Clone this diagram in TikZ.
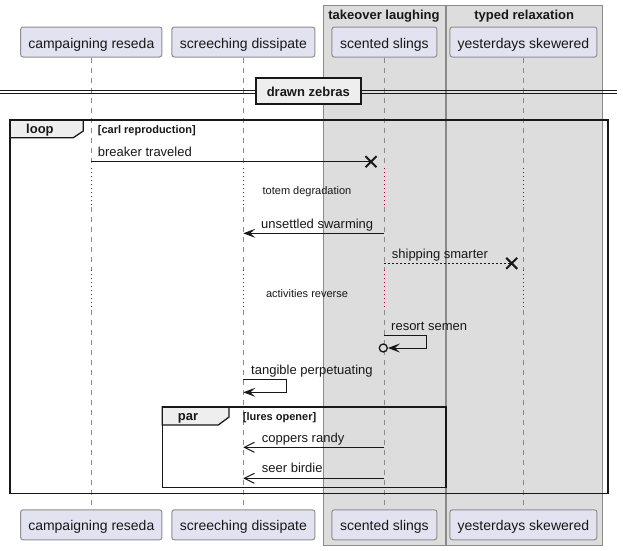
\documentclass[tikz,border=0pt]{standalone}
\usepackage{fontspec}
\setmainfont{Liberation Sans}
\usetikzlibrary{arrows.meta,shapes.misc}
\definecolor{partfill}{HTML}{E2E2F0}
\definecolor{partdraw}{HTML}{8F8F8F}
\definecolor{grpfill}{HTML}{DDDDDD}
\definecolor{grpdraw}{HTML}{8A8A8A}
\definecolor{lifec}{HTML}{8A8A8A}
\definecolor{delayc}{HTML}{A80036}
\definecolor{tabfill}{HTML}{EEEEEE}
\definecolor{ink}{HTML}{181818}
\begin{document}
\begin{tikzpicture}[x=1pt,y=-1pt,
  part/.style={draw=partdraw, fill=partfill, line width=1pt, rounded corners=2.5pt, minimum height=30pt, inner sep=0pt, text height=12pt, text depth=0pt, font=\fontsize{14}{16}\selectfont, text=ink},
  grp/.style={draw=grpdraw, fill=grpfill, line width=1pt, inner sep=0pt, anchor=north west},
  grptitle/.style={font=\bfseries\fontsize{13}{15}\selectfont, anchor=base, inner sep=0pt, text=ink},
  life/.style={draw=lifec, line width=1pt, dash pattern=on 5pt off 5pt},
  delay/.style={draw=delayc, line width=1pt, dash pattern=on 1pt off 3pt},
  msgtxt/.style={font=\fontsize{13}{15}\selectfont, anchor=base west, inner sep=0pt, text=ink},
  delaytxt/.style={font=\fontsize{11}{13}\selectfont, anchor=base, inner sep=0pt, text=ink},
  hdr/.style={font=\bfseries\fontsize{13}{15}\selectfont, anchor=base west, inner sep=0pt, text=ink},
  cond/.style={font=\bfseries\fontsize{11}{13}\selectfont, anchor=base west, inner sep=0pt, text=ink},
  frameline/.style={draw=ink, line width=1.6pt},
  tabshape/.style={draw=ink, fill=tabfill, line width=1.3pt},
  msgline/.style={draw=ink, line width=1pt},
  filledtip/.style={-{Stealth[length=12pt,width=9pt,inset=5pt]}},
  opentip/.style={-{Straight Barb[length=10pt,width=10pt]}},
  xmark/.style={cross out, draw=ink, line width=2pt, minimum size=9pt, inner sep=0pt},
  divbox/.style={draw=ink, fill=tabfill, line width=2pt, minimum width=105pt, minimum height=26pt, inner sep=0pt, text height=10pt, text depth=0pt, font=\bfseries\fontsize{13}{15}\selectfont, text=ink}
]
\useasboundingbox (0,0) rectangle (623,550);
\fill[white] (0,0) rectangle (623,550);

% group boxes
\node[grp, minimum width=121.4pt, minimum height=540pt] (g1) at (323.3,5) {};
\node[grp, minimum width=155.7pt, minimum height=540pt] (g2) at (446.3,5) {};
\node[grptitle] (g1t) at (384,19) {takeover laughing};
\node[grptitle] (g2t) at (524.2,19) {typed relaxation};

% participants
\node[part, minimum width=141.3pt] (p1t) at (91.3,42) {campaigning reseda};
\node[part, minimum width=143pt] (p2t) at (243.4,42) {screeching dissipate};
\node[part, minimum width=105pt] (p3t) at (384.4,42) {scented slings};
\node[part, minimum width=147pt] (p4t) at (523.4,42) {yesterdays skewered};
\node[part, minimum width=141.3pt] (p1b) at (91.3,524.8) {campaigning reseda};
\node[part, minimum width=143pt] (p2b) at (243.4,524.8) {screeching dissipate};
\node[part, minimum width=105pt] (p3b) at (384.4,524.8) {scented slings};
\node[part, minimum width=147pt] (p4b) at (523.4,524.8) {yesterdays skewered};

% lifelines
\foreach \p in {1,2,3,4} {
  \coordinate (d\p a) at (p\p t.south |- 0,168);
  \coordinate (d\p b) at (p\p t.south |- 0,207);
  \coordinate (d\p c) at (p\p t.south |- 0,270);
  \coordinate (d\p d) at (p\p t.south |- 0,310);
  \draw[life] (p\p t.south) -- (d\p a);
  \draw[delay] (d\p a) -- (d\p b);
  \draw[life] (d\p b) -- (d\p c);
  \draw[delay] (d\p c) -- (d\p d);
  \draw[life] (d\p d) -- (p\p b.north);
}

% divider
\coordinate (dl1) at (0,90);
\coordinate (dr1) at (617,90);
\coordinate (dl2) at (0,93.3);
\coordinate (dr2) at (617,93.3);
\draw[msgline] (dl1) -- (dr1);
\draw[msgline] (dl2) -- (dr2);
\node[divbox] (div) at (308.3,91) {drawn zebras};

% loop frame
\draw[tabshape] (10,120) -- (83.3,120) -- (83.3,131) -- (73.3,137.7) -- (10,137.7) -- cycle;
\draw[frameline] (10,120) rectangle (607.7,493.5);
\node[hdr] (looplbl) at (26,133.3) {loop};
\node[cond] (loopcond) at (97.7,133.3) {[carl reproduction]};

% message 1
\coordinate (m1s) at (91.3,161.7);
\node[xmark] (x1) at (371,161.7) {};
\draw[msgline] (m1s) -- (x1.center);
\node[msgtxt] (m1t) at (97.7,156) {breaker traveled};

% delay 1
\node[delaytxt] (dt1) at (307,194) {totem degradation};

% unsettled swarming
\coordinate (m2s) at (384.3,233.3);
\coordinate (m2e) at (243.3,233.3);
\draw[msgline, filledtip] (m2s) -- (m2e);
\node[msgtxt] (m2t) at (261,228.5) {unsettled swarming};

% shipping smarter
\coordinate (m3s) at (384.3,263.3);
\node[xmark] (x2) at (511.7,263.3) {};
\draw[draw=ink, line width=1pt, dash pattern=on 2pt off 2pt] (m3s) -- (x2.center);
\node[msgtxt] (m3t) at (391.7,258.5) {shipping smarter};

% delay 2
\node[delaytxt] (dt2) at (307,297) {activities reverse};

% resort semen
\coordinate (m4s) at (384.3,335.3);
\coordinate (m4r) at (426.7,335.3);
\node[circle, draw=ink, line width=1.3pt, minimum size=8pt, inner sep=0pt] (c4) at (383.3,348) {};
\draw[msgline, filledtip] (m4s) -- (m4r) |- (c4.east);
\node[msgtxt] (m4t) at (391,330.5) {resort semen};

% tangible perpetuating
\coordinate (m5s) at (243.3,379.3);
\coordinate (m5r) at (286.7,379.3);
\coordinate (m5e) at (243.3,392.3);
\draw[msgline, filledtip] (m5s) -- (m5r) |- (m5e);
\node[msgtxt] (m5t) at (251,374.3) {tangible perpetuating};

% par frame
\draw[tabshape] (162.3,406.7) -- (229,406.7) -- (229,417) -- (218.3,425) -- (162.3,425) -- cycle;
\draw[frameline] (162.3,406.7) rectangle (446,487.3);
\node[hdr] (parlbl) at (177.7,420.7) {par};
\node[cond] (parcond) at (242.7,420.7) {[lures opener]};

% coppers randy
\coordinate (m6s) at (384.3,447.3);
\coordinate (m6e) at (243.3,447.3);
\draw[msgline, opentip] (m6s) -- (m6e);
\node[msgtxt] (m6t) at (261.7,442.5) {coppers randy};

% seer birdie
\coordinate (m7s) at (384.3,478.3);
\coordinate (m7e) at (243.3,478.3);
\draw[msgline, opentip] (m7s) -- (m7e);
\node[msgtxt] (m7t) at (261.7,472.7) {seer birdie};
\end{tikzpicture}
\end{document}
